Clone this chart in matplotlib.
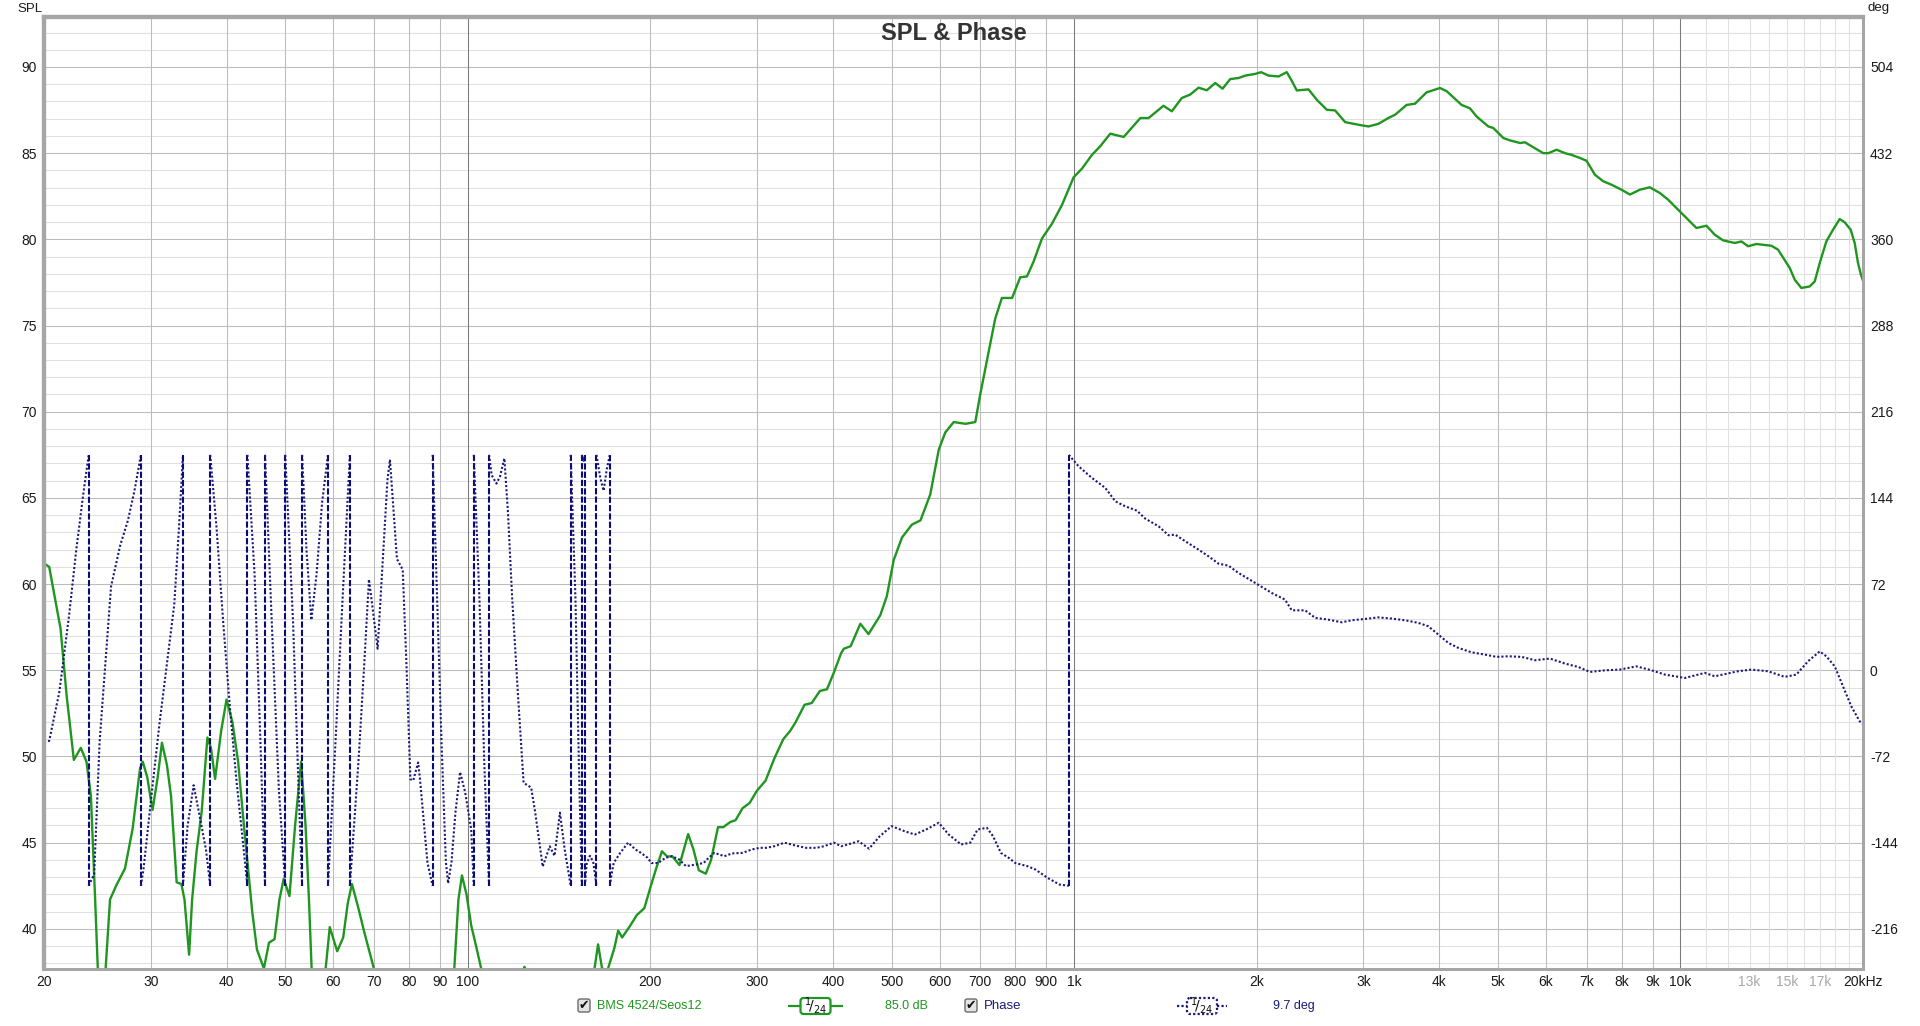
import numpy as np
import matplotlib
matplotlib.use("Agg")
import matplotlib.pyplot as plt
from matplotlib.patches import FancyBboxPatch
from matplotlib.ticker import NullLocator

plt.rcParams['font.family'] = ['Liberation Sans', 'DejaVu Sans']

# SPL trace (Hz, dB)
spl_hz = [20.0, 20.4, 21.3, 21.8, 22.4, 23.0, 23.5, 23.9, 24.3, 24.7, 25.2, 25.7, 26.3, 27.2,
          28.0, 28.8, 29.1, 29.6, 30.2, 30.8, 31.3, 31.9, 32.4, 33.1, 33.7, 34.1, 34.7, 35.1,
          35.7, 36.4, 37.2, 37.7, 38.3, 39.2, 40.0, 40.9, 41.8, 42.6, 43.3, 44.1, 44.9, 46.1,
          47.0, 48.0, 48.9, 49.7, 50.8, 51.9, 53.1, 54.0, 54.7, 55.5, 57.5, 58.4, 59.2, 60.9,
          62.3, 63.4, 64.4, 66.0, 67.5, 70.0, 75.0, 85.0, 93.0, 95.0, 96.5, 97.8, 99.5, 101.3,
          103.2, 105.2, 112, 118, 124, 130, 150, 161.8, 164.0, 166.5, 170.0, 174.5, 177.0,
          179.7, 185.0, 190.0, 195.5, 200.8, 204.9, 209.0, 213.2, 217.5, 223.4, 230.9, 235.6,
          240.4, 246.9, 251.9, 258.6, 263.8, 271.0, 276.4, 283.9, 291.6, 299.6, 309.8, 320.4,
          331.3, 340.4, 347.4, 359.2, 369.1, 380.8, 391.2, 401.9, 412.8, 417, 428, 444, 458,
          479, 491, 504, 520, 540, 558, 579, 598, 613, 633, 662, 687, 700, 723, 741, 760, 790,
          815, 836, 857, 885, 919, 955, 998, 1030, 1070, 1104, 1147, 1207, 1286, 1327, 1404,
          1449, 1505, 1554, 1604, 1655, 1709, 1757, 1809, 1867, 1915, 1989, 2034, 2092, 2173,
          2242, 2285, 2329, 2435, 2513, 2610, 2694, 2799, 2943, 3057, 3175, 3298, 3383, 3535,
          3649, 3814, 4012, 4114, 4355, 4496, 4610, 4820, 4913, 5103, 5235, 5437, 5541, 5719,
          5940, 6054, 6248, 6450, 6614, 6828, 6999, 7226, 7458, 7696, 7994, 8253, 8571, 8902,
          9246, 9542, 9911, 10166, 10624, 11035, 11392, 11757, 12291, 12602, 12927, 13341,
          14122, 14486, 15143, 15433, 15825, 16338, 16651, 16970, 17400, 17847, 18306, 18657,
          19086, 19378, 19624, 19826, 20000]
spl_db = [61.2, 61.0, 57.4, 53.5, 49.8, 50.5, 49.7, 47.7, 41.5, 35.0, 37.0, 41.7, 42.5, 43.5,
          45.8, 49.3, 49.7, 48.8, 46.9, 48.8, 50.8, 49.5, 47.7, 42.7, 42.6, 41.7, 38.5, 41.7,
          44.5, 46.8, 51.1, 50.5, 48.7, 51.5, 53.3, 52.0, 49.7, 46.5, 43.9, 41.0, 38.8, 37.7,
          39.2, 39.4, 41.7, 42.9, 41.9, 46.0, 49.7, 46.0, 41.7, 36.0, 36.0, 38.0, 40.1, 38.7,
          39.5, 41.5, 42.6, 41.2, 39.8, 37.7, 33.0, 33.0, 36.0, 37.7, 41.7, 43.1, 42.0, 40.2,
          39.0, 37.7, 35.0, 35.5, 37.8, 35.5, 35.0, 37.7, 39.1, 37.7, 37.6, 38.9, 39.9,
          39.5, 40.15, 40.8, 41.2, 42.6, 43.6, 44.5, 44.2, 44.2, 43.7, 45.5, 44.6,
          43.4, 43.2, 44.0, 45.9, 45.9, 46.2, 46.3, 47.0, 47.3, 48.0, 48.6, 49.9,
          51.0, 51.5, 52.0, 53.0, 53.1, 53.8, 53.9, 54.9, 56.0, 56.25, 56.4, 57.7, 57.1,
          58.2, 59.3, 61.4, 62.7, 63.45, 63.7, 65.2, 67.8, 68.8, 69.4, 69.3, 69.4, 71.0, 73.5, 75.4, 76.6, 76.6,
          77.8, 77.85, 78.7, 80.05, 80.9, 82.0, 83.6, 84.1, 84.9, 85.4, 86.13, 85.94, 87.04, 87.04, 87.75,
          87.43, 88.2, 88.4, 88.8, 88.65, 89.07, 88.74, 89.3, 89.36, 89.5, 89.6, 89.7, 89.5, 89.45,
          89.7, 89.2, 88.64, 88.7, 88.1, 87.52, 87.48, 86.8, 86.65, 86.55, 86.7, 87.04, 87.23, 87.8,
          87.87, 88.53, 88.78, 88.6, 87.8, 87.6, 87.13, 86.55, 86.46, 85.88, 85.74, 85.59, 85.63, 85.34,
          85.0, 85.0, 85.2, 85.0, 84.9, 84.72, 84.56, 83.75, 83.37, 83.17, 82.88, 82.6, 82.88, 83.02,
          82.69, 82.3, 81.72, 81.33, 80.66, 80.79, 80.27, 79.94, 79.79, 79.88, 79.6, 79.73,
          79.63, 79.4, 78.34, 77.66, 77.18, 77.27, 77.56, 78.63, 79.88, 80.56, 81.18, 80.99,
          80.56, 79.79, 78.63, 78.0, 77.6]

# Phase trace (Hz, deg), wrapped to +-180; a repeated frequency marks a wrap
phase_hz = [20.0, 20.4, 21.2, 22.0, 22.6, 23.2, 23.7, 23.7, 24.2, 24.7, 25.2, 25.8, 26.7, 27.5,
            28.2, 28.9, 28.9, 29.2, 30.0, 31.0, 31.8, 32.8, 33.4, 33.9, 33.9, 34.5, 35.3, 36.0,
            37.0, 37.6, 37.6, 38.5, 39.5, 40.5, 41.5, 42.5, 43.3, 43.3, 44.5, 45.5, 46.3, 46.3,
            47.5, 48.8, 50.0, 50.0, 51.5, 52.6, 53.3, 53.3, 54.2, 55.2, 56.3, 57.5, 58.8, 58.8,
            60.5, 62.3, 63.9, 63.9, 66.0, 67.5, 68.7, 69.5, 71.0, 72.1, 73.7, 74.4, 75.8, 76.4,
            78.1, 79.2, 80.4, 81.3, 82.8, 83.4, 85.8, 87.5, 87.5, 89.0, 90.5, 92.0, 92.8, 94.0,
            95.4, 97.1, 99.0, 101.3, 102.3, 102.3, 104.5, 106.5, 108.4, 108.4, 109.5, 111.5,
            113.0, 114.9, 116.5, 118.3, 121.0, 123.6, 127.2, 129.2, 132.9, 136.5, 139.0, 141.9,
            144.5, 147.8, 147.8, 150.5, 152.5, 154.2, 154.2, 155.2, 156.0, 156.0, 157.0, 159.0,
            161.0, 163.0, 163.0, 165.5, 167.5, 169.5, 171.5, 171.5, 172.7, 174.0, 178.4, 183.8,
            189, 193, 198, 200.8, 206, 211.8, 217, 223, 229, 238, 245, 248, 255, 265, 272.7, 284,
            294, 303, 311, 320, 333, 347, 361, 376, 386.5, 401.8, 412.7, 423.5, 441, 459, 478,
            500, 525, 546, 570, 598, 621, 651, 674, 693, 718, 735, 757, 780, 800, 837, 863, 904,
            946, 980, 980, 1017, 1070, 1126, 1169, 1214, 1269, 1310, 1378, 1431, 1468, 1525,
            1604, 1666, 1730, 1797, 1867, 1989, 2118, 2228, 2285, 2404, 2498, 2626, 2762, 2870,
            3020, 3175, 3340, 3514, 3696, 3838, 3988, 4140, 4302, 4524, 4760, 4974, 5200, 5470,
            5756, 6092, 6450, 6782, 7090, 7506, 7944, 8462, 8958, 9426, 10166, 10968, 11392,
            12446, 13090, 13946, 14858, 15526, 16232, 16970, 17400, 17964, 18538, 19130, 19750,
            20000]
phase_deg = [-60, -59, -18, 46, 100, 146, 180, -180, -170, -60, 0, 70, 104, 125,
             150, 180, -180, -165, -110, -45, 0, 55, 120, 180, -180, -130, -96, -118,
             -150, -180, 180, 120, 40, -30, -90, -140, -180, 180, 80, -60, -180, 180,
             40, -100, -180, 180, 40, -100, -180, 180, 100, 42, 80, 140, 180, -180,
             -60, 70, 180, -180, -77, 6, 76, 56, 18, 76, 159, 176, 118, 93,
             84, 6, -91, -92, -77, -91, -161, -180, 180, 60, -60, -160, -178, -160,
             -119, -85, -102, -133, -180, 180, 60, -80, -180, 180, 163, 156,
             162, 177, 131, 62, -21, -94, -98, -119, -164, -147, -155, -119,
             -150, -180, 180, 60, -80, -180, 180, 175, 180, -180, -162, -155,
             -160, -180, 180, 160, 150, 168, 180, -180, -170, -161, -152.5, -144,
             -149.7, -152.5, -156.7, -161, -161, -156.7, -155.3, -158, -163.6, -162.2, -161, -158,
             -152.5, -155.3, -153, -152.5,
             -149.7, -148.3, -148.3, -147, -144, -146.4, -148.3, -148.3, -147, -144, -147, -145.5,
             -142.8, -149, -138.6,
             -130.2, -134.4, -137.2, -133, -127.4, -137.2, -145.5, -144, -133, -131.6, -138.6,
             -152.5, -156.7, -161, -163.6, -166.4, -173.4,
             -179, -180, 180, 170.4, 160.7, 152.3, 141.2, 137, 133.4, 126.7, 120.3, 112.8, 113.3,
             107.8, 100.8, 95.2, 89.1, 87.4, 81.3, 73, 64.6, 59, 50.1, 50.1, 43.8, 42.3, 40.1,
             41.8, 42.9, 44.2, 43.2, 41.8, 39.6, 36.8, 29.8, 22.9, 18.7, 15.0, 13.1, 11.2, 11.7,
             11.2, 8.4, 9.8, 5.6, 2.8, -1.4, 0, 0.6, 3.3, 0, -3.6, -6.4, -2.2, -5.0,
             -0.8, 0.6, -0.8, -5.5, -3.6, 7.5, 15.8, 11.7, 3.3, -13.4, -30.1, -42.6,
             -45]

# axis ticks
x_ticks = [20, 30, 40, 50, 60, 70, 80, 90, 100, 200, 300, 400, 500, 600, 700, 800, 900,
           1000, 2000, 3000, 4000, 5000, 6000, 7000, 8000, 9000, 10000, 13000, 15000, 17000, 20000]
x_labels = ['20', '30', '40', '50', '60', '70', '80', '90', '100', '200', '300', '400', '500',
            '600', '700', '800', '900', '1k', '2k', '3k', '4k', '5k', '6k', '7k', '8k', '9k',
            '10k', '13k', '15k', '17k', '20kHz']
faint_labels = ['13k', '15k', '17k']
decade_hz = [100, 1000, 10000]
grid_hz = [30, 40, 50, 60, 70, 80, 90, 200, 300, 400, 500, 600, 700, 800, 900,
           2000, 3000, 4000, 5000, 6000, 7000, 8000, 9000]
fine_grid_hz = [11000, 12000, 13000, 14000, 15000, 16000, 17000, 18000, 19000]
spl_ticks = [40, 45, 50, 55, 60, 65, 70, 75, 80, 85, 90]
SPL_LIM = (37.7, 92.9)


def db_to_deg(v):
    # REW pins the phase axis to the SPL grid: 72 deg per 5 dB, 0 deg at 55 dB
    return (v - 55.0) * 14.4


GREEN = '#1f961f'
NAVY = '#1a1a7a'
WRAP = '#0a0a78'

W, H = 1920, 1026
fig = plt.figure(figsize=(W / 100, H / 100), dpi=100)
fig.patch.set_facecolor('white')
left, right, top, bottom = 44, 1863, 17, 968.5
ax = fig.add_axes([left / W, 1 - bottom / H, (right - left) / W, (bottom - top) / H])

ax.set_xscale('log')
ax.set_xlim(20, 20000)
ax.set_ylim(*SPL_LIM)

# grid, one pixel wide
GL = 0.75
for v in range(38, 93):
    major = v % 5 == 0
    ax.axhline(v, color='#bcbcbc' if major else '#e0e0e0', lw=GL, zorder=0)
for f in fine_grid_hz:
    ax.axvline(f, color='#e0e0e0', lw=GL, zorder=0)
for f in grid_hz:
    ax.axvline(f, color='#bcbcbc', lw=GL, zorder=0)
for f in decade_hz:
    ax.axvline(f, color='#7a7a7a', lw=GL, zorder=0)

ax.plot(spl_hz, spl_db, color=GREEN, lw=1.7, zorder=3, solid_joinstyle='round')

# phase on a twin axis
ax2 = ax.twinx()
ax2.set_ylim(db_to_deg(SPL_LIM[0]), db_to_deg(SPL_LIM[1]))
ph_f = np.array(phase_hz, dtype=float)
ph_d = np.array(phase_deg, dtype=float)
wraps = np.where(np.diff(ph_f) == 0)[0]
start = 0
for b in wraps:
    ax2.plot(ph_f[start:b + 1], ph_d[start:b + 1], color=NAVY, lw=1.5, ls=(0, (1, 1)), zorder=2)
    ax2.plot(ph_f[b:b + 2], ph_d[b:b + 2], color=WRAP, lw=1.5, ls=(0, (3, 1)), zorder=2)
    start = b + 1
ax2.plot(ph_f[start:], ph_d[start:], color=NAVY, lw=1.5, ls=(0, (1, 1)), zorder=2)

# ticks
ax.set_xticks(x_ticks)
ax.set_xticklabels(x_labels)
ax.xaxis.set_minor_locator(NullLocator())
ax.set_yticks(spl_ticks)
ax.tick_params(axis='both', length=0, labelsize=10, colors='#1a1a1a')
ax.tick_params(axis='x', pad=5)
ax.tick_params(axis='y', pad=5)
for lab in ax.get_xticklabels():
    if lab.get_text() in faint_labels:
        lab.set_color('#a8a8a8')
ax2.set_yticks([db_to_deg(v) for v in spl_ticks])
ax2.set_yticklabels([f"{db_to_deg(v):.0f}" for v in spl_ticks])
ax2.tick_params(axis='y', length=0, labelsize=10, pad=5, colors='#1a1a1a')

for a in (ax, ax2):
    for s in a.spines.values():
        s.set_color('#a6a6a6')
        s.set_linewidth(2)
    a.spines['left'].set_linewidth(3)
    a.spines['top'].set_linewidth(3)

ax.text(0.5, 0.983, 'SPL & Phase', transform=ax.transAxes, ha='center', va='center',
        fontsize=17, fontweight='bold', color='#333333', zorder=6)
fig.text(17 / W, 1 - 9 / H, 'SPL', ha='left', va='center', fontsize=9.5, color='#1a1a1a')
fig.text(1868 / W, 1 - 8 / H, 'deg', ha='left', va='center', fontsize=9.5, color='#1a1a1a')

# legend strip at the bottom, in pixel units
lax = fig.add_axes([0, 0, 1, 40 / H])
lax.set_xlim(0, W)
lax.set_ylim(H, H - 40)
lax.axis('off')
ly = 1006


def checkbox(x):
    lax.add_patch(FancyBboxPatch((x - 6, ly - 7), 12, 13, boxstyle='round,pad=0,rounding_size=2',
                                 facecolor='#e4e4e4', edgecolor='#6c6c6c', lw=1.0))
    lax.text(x, ly, '\u2714', ha='center', va='center', fontsize=9, color='#111111',
             family=['DejaVu Sans'])


def smooth_box(x0, x1, color, dotted):
    ls = (0, (1, 1)) if dotted else '-'
    lax.plot([x0, x1], [ly, ly], color=color, lw=1.6, ls=ls)
    cx = (x0 + x1) / 2
    lax.add_patch(FancyBboxPatch((cx - 15, ly - 8), 30, 16, boxstyle='round,pad=0,rounding_size=3',
                                 facecolor='white', edgecolor=color, lw=1.6, ls=ls, zorder=3))
    lax.text(cx, ly, r'$^{1}\!/_{24}$', ha='center', va='center', fontsize=10, color='#111111',
             zorder=4)


checkbox(584)
lax.text(597, ly, 'BMS 4524/Seos12', ha='left', va='center', fontsize=9, color=GREEN)
smooth_box(789, 842, GREEN, False)
lax.text(885, ly, '85.0 dB', ha='left', va='center', fontsize=9, color=GREEN)
checkbox(971)
lax.text(984, ly, 'Phase', ha='left', va='center', fontsize=9.5, color=NAVY)
smooth_box(1177, 1227, NAVY, True)
lax.text(1273, ly, '9.7 deg', ha='left', va='center', fontsize=9, color=NAVY)

fig.savefig('out.png', dpi=100, facecolor='white')
